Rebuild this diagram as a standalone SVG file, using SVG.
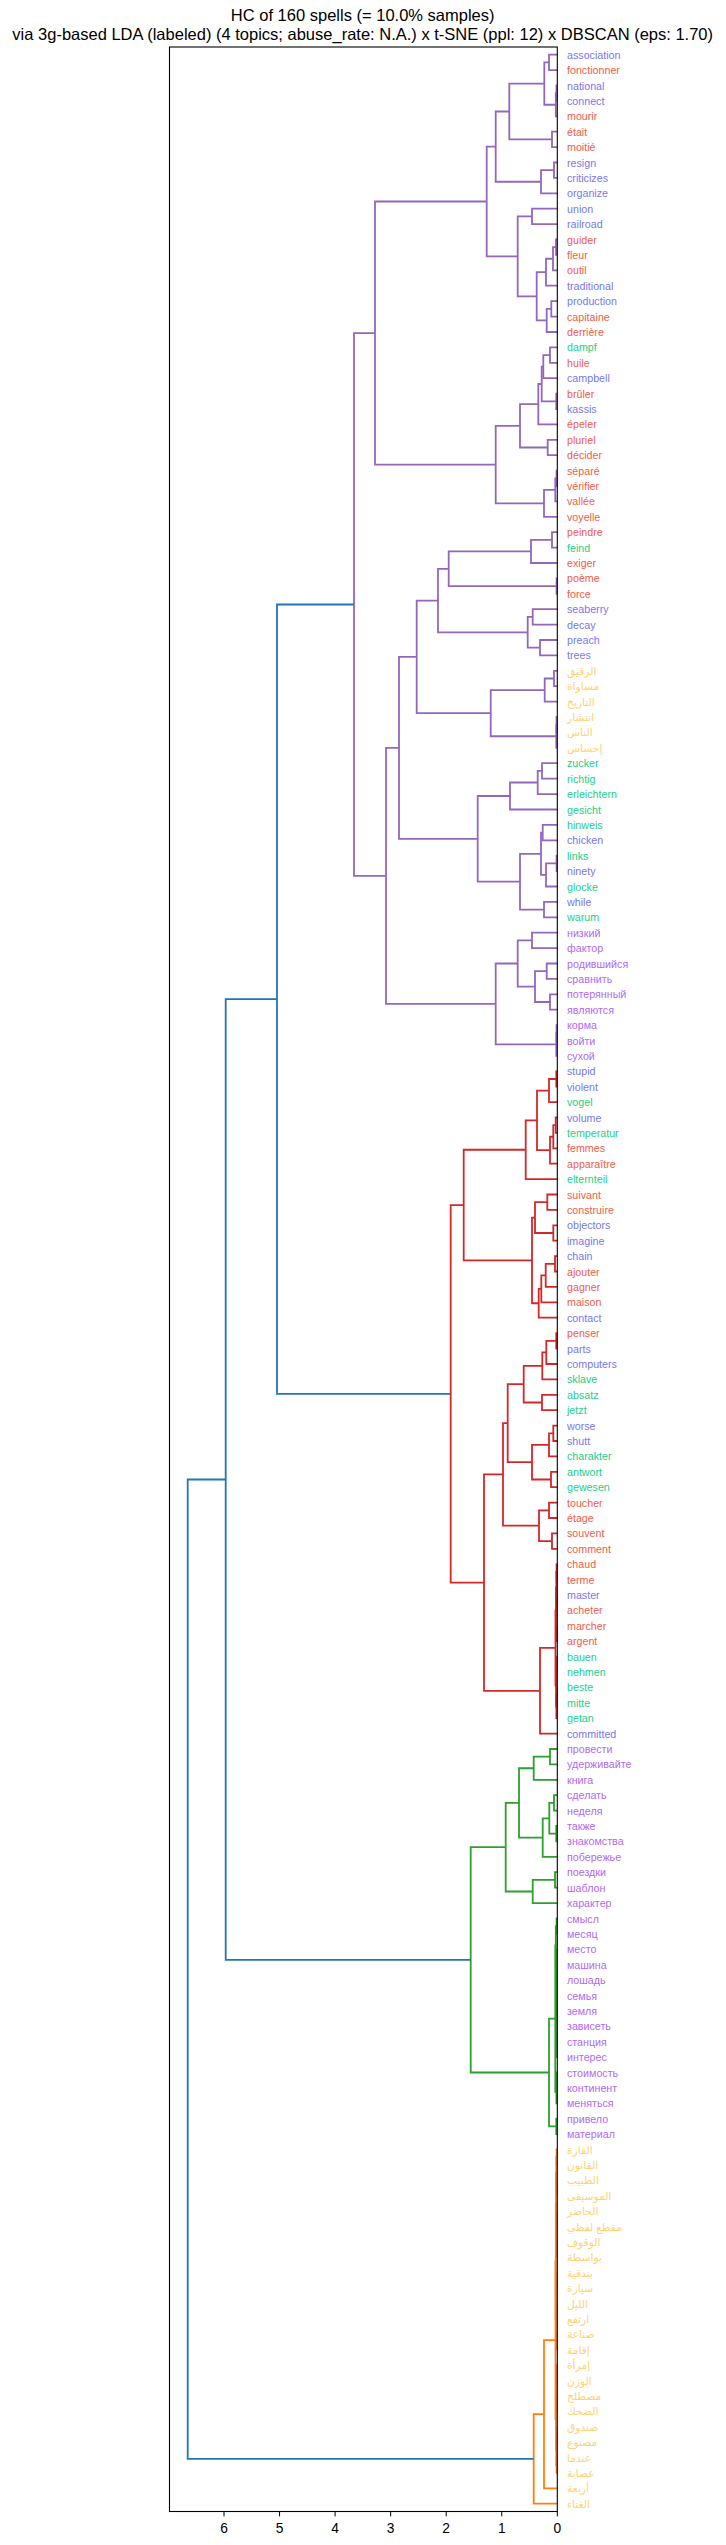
<svg xmlns="http://www.w3.org/2000/svg" width="726" height="2545" viewBox="0 0 726 2545">
<style>
text{font-family:"Liberation Sans","DejaVu Sans",Arial,sans-serif}
.t{font-size:16.5px;fill:#000;text-anchor:middle}
.k{font-size:13.8px;fill:#000;text-anchor:middle}
.lb text{font-size:10.7px}
.en{fill:#7878f0}.fr{fill:#f25c4c}.de{fill:#1ecf8a}.ru{fill:#b06af5}.ar{fill:#ffd274}
#links path{fill:none;stroke-width:1.8;stroke-linejoin:miter;stroke-linecap:butt}
.p{stroke:#9467bd}.r{stroke:#d62728}.g{stroke:#2ca02c}.o{stroke:#ff7f0e}.b{stroke:#1f77b4}
</style>
<rect x="0" y="0" width="726" height="2545" fill="#fff"/>
<g id="title">
<text class="t" x="362.7" y="21">HC of 160 spells (= 10.0% samples)</text>
<text class="t" x="362.7" y="39.5">via 3g-based LDA (labeled) (4 topics; abuse_rate: N.A.) x t-SNE (ppl: 12) x DBSCAN (eps: 1.70)</text>
</g>
<g id="links">
<g class="p">
<path d="M557.3 54.7H549V70.1H557.3"/>
<path d="M557.3 85.5H556.5V100.9H557.3"/>
<path d="M556.5 93.2H555.8V116.3H557.3"/>
<path d="M549 62.4H544.3V104.75H555.8"/>
<path d="M557.3 131.7H552V147.1H557.3"/>
<path d="M544.3 83.6H509.3V139.4H552"/>
<path d="M557.3 162.5H554V177.9H557.3"/>
<path d="M554 170.2H541V193.3H557.3"/>
<path d="M509.3 111.5H495.7V181.75H541"/>
<path d="M557.3 208.7H532V224.1H557.3"/>
<path d="M557.3 239.5H556V254.9H557.3"/>
<path d="M556 247.2H553V270.3H557.3"/>
<path d="M553 258.75H546V285.7H557.3"/>
<path d="M557.3 301.2H551.3V316.6H557.3"/>
<path d="M551.3 308.9H546.7V332H557.3"/>
<path d="M546 272.2H536.7V320.45H546.7"/>
<path d="M532 216.4H517.7V296.3H536.7"/>
<path d="M495.7 146.6H486.7V256.35H517.7"/>
<path d="M557.3 347.4H550V362.8H557.3"/>
<path d="M550 355.1H543.3V378.2H557.3"/>
<path d="M557.3 393.6H556.3V409H557.3"/>
<path d="M543.3 366.65H541.7V401.3H556.3"/>
<path d="M541.7 384H538.3V424.4H557.3"/>
<path d="M557.3 439.8H547.7V455.2H557.3"/>
<path d="M538.3 404.2H520V447.5H547.7"/>
<path d="M557.3 470.6H556.6V486H557.3"/>
<path d="M556.6 478.3H555.3V501.4H557.3"/>
<path d="M555.3 489.85H544V516.8H557.3"/>
<path d="M520 425.85H495.7V503.3H544"/>
<path d="M486.7 201.5H375V464.6H495.7"/>
<path d="M557.3 532.2H552V547.6H557.3"/>
<path d="M552 539.9H531V563H557.3"/>
<path d="M557.3 578.4H556.6V593.8H557.3"/>
<path d="M531 551.45H448.7V586.1H556.6"/>
<path d="M557.3 609.2H532.7V624.6H557.3"/>
<path d="M557.3 640H540V655.4H557.3"/>
<path d="M532.7 616.9H527.7V647.7H540"/>
<path d="M448.7 568.8H438V632.3H527.7"/>
<path d="M557.3 670.8H554V686.2H557.3"/>
<path d="M554 678.5H544.7V701.6H557.3"/>
<path d="M557.3 717H556.6V732.4H557.3"/>
<path d="M556.6 724.7H556.3V747.8H557.3"/>
<path d="M544.7 690.05H490.7V736.25H556.3"/>
<path d="M438 600.55H416.7V713.15H490.7"/>
<path d="M557.3 763.2H542V778.7H557.3"/>
<path d="M542 770.95H537.7V794.1H557.3"/>
<path d="M537.7 782.5H510V809.5H557.3"/>
<path d="M557.3 824.9H542.7V840.3H557.3"/>
<path d="M557.3 855.7H556.6V871.1H557.3"/>
<path d="M556.6 863.4H546V886.5H557.3"/>
<path d="M542.7 832.6H541V874.95H546"/>
<path d="M557.3 901.9H544V917.3H557.3"/>
<path d="M541 853.8H520V909.6H544"/>
<path d="M510 796H477.7V881.7H520"/>
<path d="M416.7 656.85H399V838.85H477.7"/>
<path d="M557.3 932.7H532V948.1H557.3"/>
<path d="M557.3 963.5H546.7V978.9H557.3"/>
<path d="M557.3 994.3H550V1009.7H557.3"/>
<path d="M546.7 971.2H535V1002H550"/>
<path d="M532 940.4H517.7V986.6H535"/>
<path d="M557.3 1025.1H556.6V1040.5H557.3"/>
<path d="M556.6 1032.8H556.3V1055.9H557.3"/>
<path d="M517.7 963.5H495.7V1044.35H556.3"/>
<path d="M399 747.85H386V1003.9H495.7"/>
<path d="M375 333.05H354V875.9H386"/>
</g>
<g class="r">
<path d="M557.3 1071.3H556.3V1086.7H557.3"/>
<path d="M556.3 1079H549V1102.1H557.3"/>
<path d="M557.3 1117.5H555.7V1132.9H557.3"/>
<path d="M555.7 1125.2H553.3V1148.3H557.3"/>
<path d="M553.3 1136.75H550V1163.7H557.3"/>
<path d="M549 1090.55H537V1150.2H550"/>
<path d="M537 1120.4H525.7V1179.1H557.3"/>
<path d="M557.3 1194.5H547.3V1209.9H557.3"/>
<path d="M557.3 1225.3H553.3V1240.7H557.3"/>
<path d="M547.3 1202.2H535V1233H553.3"/>
<path d="M557.3 1256.1H555V1271.5H557.3"/>
<path d="M555 1263.8H545.7V1286.9H557.3"/>
<path d="M545.7 1275.35H541.3V1302.3H557.3"/>
<path d="M541.3 1288.8H538.7V1317.7H557.3"/>
<path d="M535 1217.6H532V1303.25H538.7"/>
<path d="M525.7 1149.75H463.7V1260.4H532"/>
<path d="M557.3 1333.1H556.3V1348.6H557.3"/>
<path d="M556.3 1340.85H546.3V1364H557.3"/>
<path d="M546.3 1352.4H542.3V1379.4H557.3"/>
<path d="M557.3 1394.8H542V1410.2H557.3"/>
<path d="M542.3 1365.9H523.7V1402.5H542"/>
<path d="M557.3 1425.6H553.3V1441H557.3"/>
<path d="M553.3 1433.3H549V1456.4H557.3"/>
<path d="M557.3 1471.8H551V1487.2H557.3"/>
<path d="M549 1444.85H532V1479.5H551"/>
<path d="M523.7 1384.2H507.7V1462.2H532"/>
<path d="M557.3 1502.6H549V1518H557.3"/>
<path d="M557.3 1533.4H552V1548.8H557.3"/>
<path d="M549 1510.3H539V1541.1H552"/>
<path d="M507.7 1423.2H503V1525.7H539"/>
<path d="M557.3 1564.2H556.6V1579.6H557.3"/>
<path d="M557.3 1595H556.6V1610.4H557.3"/>
<path d="M556.6 1571.9H556.3V1602.7H556.6"/>
<path d="M557.3 1625.8H556.6V1641.2H557.3"/>
<path d="M556.3 1587.3H556V1633.5H556.6"/>
<path d="M557.3 1656.6H556.6V1672H557.3"/>
<path d="M557.3 1687.4H556.6V1702.8H557.3"/>
<path d="M556.6 1695.1H556.4V1718.2H557.3"/>
<path d="M556.6 1664.3H556.1V1706.65H556.4"/>
<path d="M556 1610.4H555.5V1685.5H556.1"/>
<path d="M555.5 1647.95H540V1733.6H557.3"/>
<path d="M503 1474.45H484V1690.8H540"/>
<path d="M463.7 1205.1H450.7V1582.6H484"/>
</g>
<g class="g">
<path d="M557.3 1749H550V1764.4H557.3"/>
<path d="M550 1756.7H533.7V1779.8H557.3"/>
<path d="M557.3 1795.2H554V1810.6H557.3"/>
<path d="M557.3 1826H556.3V1841.4H557.3"/>
<path d="M554 1802.9H549.3V1833.7H556.3"/>
<path d="M549.3 1818.3H542.7V1856.8H557.3"/>
<path d="M533.7 1768.25H519V1837.55H542.7"/>
<path d="M557.3 1872.2H555V1887.7H557.3"/>
<path d="M555 1879.95H532.7V1903.1H557.3"/>
<path d="M519 1802.9H505.7V1891.5H532.7"/>
<path d="M557.3 1918.5H556.6V1933.9H557.3"/>
<path d="M557.3 2041.7H556.6V2057.1H557.3"/>
<path d="M557.3 2026.3H556.5V2049.4H556.6"/>
<path d="M557.3 2010.9H556.4V2037.85H556.5"/>
<path d="M557.3 1995.5H556.3V2024.4H556.4"/>
<path d="M557.3 1980.1H556.2V2009.95H556.3"/>
<path d="M557.3 1964.7H556.1V1995H556.2"/>
<path d="M557.3 1949.3H556V1979.85H556.1"/>
<path d="M556.6 1926.2H555.8V1964.6H556"/>
<path d="M557.3 2072.5H556.6V2087.9H557.3"/>
<path d="M556.6 2080.2H556.4V2103.3H557.3"/>
<path d="M555.8 1945.4H555.3V2091.75H556.4"/>
<path d="M557.3 2118.7H556.3V2134.1H557.3"/>
<path d="M555.3 2018.6H549V2126.4H556.3"/>
<path d="M505.7 1847.2H470.7V2072.5H549"/>
</g>
<g class="o">
<path d="M557.3 2149.5H556.6V2164.9H557.3"/>
<path d="M557.3 2180.3H556.6V2195.7H557.3"/>
<path d="M557.3 2211.1H556.6V2226.5H557.3"/>
<path d="M557.3 2241.9H556.6V2257.3H557.3"/>
<path d="M557.3 2272.7H556.6V2288.1H557.3"/>
<path d="M557.3 2303.5H556.6V2318.9H557.3"/>
<path d="M557.3 2334.3H556.6V2349.7H557.3"/>
<path d="M556.6 2157.2H556.3V2188H556.6"/>
<path d="M556.6 2218.8H556.3V2249.6H556.6"/>
<path d="M556.6 2280.4H556.3V2311.2H556.6"/>
<path d="M556.3 2172.6H556V2234.2H556.3"/>
<path d="M556.3 2295.8H556V2342H556.6"/>
<path d="M556 2203.4H555.8V2318.9H556"/>
<path d="M557.3 2365.1H556.6V2380.5H557.3"/>
<path d="M557.3 2395.9H556.6V2411.3H557.3"/>
<path d="M557.3 2426.7H556.6V2442.1H557.3"/>
<path d="M557.3 2457.5H556.6V2472.9H557.3"/>
<path d="M556.6 2372.8H556.3V2403.6H556.6"/>
<path d="M556.6 2434.4H556.3V2465.2H556.6"/>
<path d="M556.3 2388.2H556V2449.8H556.3"/>
<path d="M555.8 2261.15H555.5V2419H556"/>
<path d="M555.5 2340.1H544V2488.3H557.3"/>
<path d="M544 2414.2H533.7V2503.7H557.3"/>
</g>
<g class="b">
<path d="M354 604.5H277V1393.85H450.7"/>
<path d="M277 999.2H225.7V1959.85H470.7"/>
<path d="M225.7 1479.5H187.7V2458.95H533.7"/>
</g>
</g>
<g id="axes" fill="none" stroke="#000">
<rect x="169.5" y="47" width="387.8" height="2464.5" stroke-width="1.1"/>
<path d="M557.3 2511.5V2516.4M501.75 2511.5V2516.4M446.2 2511.5V2516.4M390.65 2511.5V2516.4M335.1 2511.5V2516.4M279.55 2511.5V2516.4M224 2511.5V2516.4" stroke-width="1"/>
</g>
<g id="xticks">
<text class="k" x="557.3" y="2533.3">0</text>
<text class="k" x="501.75" y="2533.3">1</text>
<text class="k" x="446.2" y="2533.3">2</text>
<text class="k" x="390.65" y="2533.3">3</text>
<text class="k" x="335.1" y="2533.3">4</text>
<text class="k" x="279.55" y="2533.3">5</text>
<text class="k" x="224" y="2533.3">6</text>
</g>
<g class="lb">
<g id="leaf-1"><text class="en" x="567" y="58.7">association</text></g>
<g id="leaf-2"><text class="fr" x="567" y="74.1">fonctionner</text></g>
<g id="leaf-3"><text class="en" x="567" y="89.5">national</text></g>
<g id="leaf-4"><text class="en" x="567" y="104.9">connect</text></g>
<g id="leaf-5"><text class="fr" x="567" y="120.3">mourir</text></g>
<g id="leaf-6"><text class="fr" x="567" y="135.7">était</text></g>
<g id="leaf-7"><text class="fr" x="567" y="151.1">moitié</text></g>
<g id="leaf-8"><text class="en" x="567" y="166.5">resign</text></g>
<g id="leaf-9"><text class="en" x="567" y="181.9">criticizes</text></g>
<g id="leaf-10"><text class="en" x="567" y="197.3">organize</text></g>
<g id="leaf-11"><text class="en" x="567" y="212.7">union</text></g>
<g id="leaf-12"><text class="en" x="567" y="228.1">railroad</text></g>
<g id="leaf-13"><text class="fr" x="567" y="243.5">guider</text></g>
<g id="leaf-14"><text class="fr" x="567" y="258.9">fleur</text></g>
<g id="leaf-15"><text class="fr" x="567" y="274.3">outil</text></g>
<g id="leaf-16"><text class="en" x="567" y="289.7">traditional</text></g>
<g id="leaf-17"><text class="en" x="567" y="305.2">production</text></g>
<g id="leaf-18"><text class="fr" x="567" y="320.6">capitaine</text></g>
<g id="leaf-19"><text class="fr" x="567" y="336">derrière</text></g>
<g id="leaf-20"><text class="de" x="567" y="351.4">dampf</text></g>
<g id="leaf-21"><text class="fr" x="567" y="366.8">huile</text></g>
<g id="leaf-22"><text class="en" x="567" y="382.2">campbell</text></g>
<g id="leaf-23"><text class="fr" x="567" y="397.6">brûler</text></g>
<g id="leaf-24"><text class="en" x="567" y="413">kassis</text></g>
<g id="leaf-25"><text class="fr" x="567" y="428.4">épeler</text></g>
<g id="leaf-26"><text class="fr" x="567" y="443.8">pluriel</text></g>
<g id="leaf-27"><text class="fr" x="567" y="459.2">décider</text></g>
<g id="leaf-28"><text class="fr" x="567" y="474.6">séparé</text></g>
<g id="leaf-29"><text class="fr" x="567" y="490">vérifier</text></g>
<g id="leaf-30"><text class="fr" x="567" y="505.4">vallée</text></g>
<g id="leaf-31"><text class="fr" x="567" y="520.8">voyelle</text></g>
<g id="leaf-32"><text class="fr" x="567" y="536.2">peindre</text></g>
<g id="leaf-33"><text class="de" x="567" y="551.6">feind</text></g>
<g id="leaf-34"><text class="fr" x="567" y="567">exiger</text></g>
<g id="leaf-35"><text class="fr" x="567" y="582.4">poème</text></g>
<g id="leaf-36"><text class="fr" x="567" y="597.8">force</text></g>
<g id="leaf-37"><text class="en" x="567" y="613.2">seaberry</text></g>
<g id="leaf-38"><text class="en" x="567" y="628.6">decay</text></g>
<g id="leaf-39"><text class="en" x="567" y="644">preach</text></g>
<g id="leaf-40"><text class="en" x="567" y="659.4">trees</text></g>
<g id="leaf-41"><text class="ar" x="567" y="674.8">الرقيق</text></g>
<g id="leaf-42"><text class="ar" x="567" y="690.2">مساواة</text></g>
<g id="leaf-43"><text class="ar" x="567" y="705.6">التاريخ</text></g>
<g id="leaf-44"><text class="ar" x="567" y="721">انتشار</text></g>
<g id="leaf-45"><text class="ar" x="567" y="736.4">الناس</text></g>
<g id="leaf-46"><text class="ar" x="567" y="751.8">إحساس</text></g>
<g id="leaf-47"><text class="de" x="567" y="767.2">zucker</text></g>
<g id="leaf-48"><text class="de" x="567" y="782.7">richtig</text></g>
<g id="leaf-49"><text class="de" x="567" y="798.1">erleichtern</text></g>
<g id="leaf-50"><text class="de" x="567" y="813.5">gesicht</text></g>
<g id="leaf-51"><text class="de" x="567" y="828.9">hinweis</text></g>
<g id="leaf-52"><text class="en" x="567" y="844.3">chicken</text></g>
<g id="leaf-53"><text class="de" x="567" y="859.7">links</text></g>
<g id="leaf-54"><text class="en" x="567" y="875.1">ninety</text></g>
<g id="leaf-55"><text class="de" x="567" y="890.5">glocke</text></g>
<g id="leaf-56"><text class="en" x="567" y="905.9">while</text></g>
<g id="leaf-57"><text class="de" x="567" y="921.3">warum</text></g>
<g id="leaf-58"><text class="ru" x="567" y="936.7">низкий</text></g>
<g id="leaf-59"><text class="ru" x="567" y="952.1">фактор</text></g>
<g id="leaf-60"><text class="ru" x="567" y="967.5">родившийся</text></g>
<g id="leaf-61"><text class="ru" x="567" y="982.9">сравнить</text></g>
<g id="leaf-62"><text class="ru" x="567" y="998.3">потерянный</text></g>
<g id="leaf-63"><text class="ru" x="567" y="1013.7">являются</text></g>
<g id="leaf-64"><text class="ru" x="567" y="1029.1">корма</text></g>
<g id="leaf-65"><text class="ru" x="567" y="1044.5">войти</text></g>
<g id="leaf-66"><text class="ru" x="567" y="1059.9">сухой</text></g>
<g id="leaf-67"><text class="en" x="567" y="1075.3">stupid</text></g>
<g id="leaf-68"><text class="en" x="567" y="1090.7">violent</text></g>
<g id="leaf-69"><text class="de" x="567" y="1106.1">vogel</text></g>
<g id="leaf-70"><text class="en" x="567" y="1121.5">volume</text></g>
<g id="leaf-71"><text class="de" x="567" y="1136.9">temperatur</text></g>
<g id="leaf-72"><text class="fr" x="567" y="1152.3">femmes</text></g>
<g id="leaf-73"><text class="fr" x="567" y="1167.7">apparaître</text></g>
<g id="leaf-74"><text class="de" x="567" y="1183.1">elternteil</text></g>
<g id="leaf-75"><text class="fr" x="567" y="1198.5">suivant</text></g>
<g id="leaf-76"><text class="fr" x="567" y="1213.9">construire</text></g>
<g id="leaf-77"><text class="en" x="567" y="1229.3">objectors</text></g>
<g id="leaf-78"><text class="en" x="567" y="1244.7">imagine</text></g>
<g id="leaf-79"><text class="en" x="567" y="1260.1">chain</text></g>
<g id="leaf-80"><text class="fr" x="567" y="1275.5">ajouter</text></g>
<g id="leaf-81"><text class="fr" x="567" y="1290.9">gagner</text></g>
<g id="leaf-82"><text class="fr" x="567" y="1306.3">maison</text></g>
<g id="leaf-83"><text class="en" x="567" y="1321.7">contact</text></g>
<g id="leaf-84"><text class="fr" x="567" y="1337.1">penser</text></g>
<g id="leaf-85"><text class="en" x="567" y="1352.6">parts</text></g>
<g id="leaf-86"><text class="en" x="567" y="1368">computers</text></g>
<g id="leaf-87"><text class="de" x="567" y="1383.4">sklave</text></g>
<g id="leaf-88"><text class="de" x="567" y="1398.8">absatz</text></g>
<g id="leaf-89"><text class="de" x="567" y="1414.2">jetzt</text></g>
<g id="leaf-90"><text class="en" x="567" y="1429.6">worse</text></g>
<g id="leaf-91"><text class="en" x="567" y="1445">shutt</text></g>
<g id="leaf-92"><text class="de" x="567" y="1460.4">charakter</text></g>
<g id="leaf-93"><text class="de" x="567" y="1475.8">antwort</text></g>
<g id="leaf-94"><text class="de" x="567" y="1491.2">gewesen</text></g>
<g id="leaf-95"><text class="fr" x="567" y="1506.6">toucher</text></g>
<g id="leaf-96"><text class="fr" x="567" y="1522">étage</text></g>
<g id="leaf-97"><text class="fr" x="567" y="1537.4">souvent</text></g>
<g id="leaf-98"><text class="fr" x="567" y="1552.8">comment</text></g>
<g id="leaf-99"><text class="fr" x="567" y="1568.2">chaud</text></g>
<g id="leaf-100"><text class="fr" x="567" y="1583.6">terme</text></g>
<g id="leaf-101"><text class="en" x="567" y="1599">master</text></g>
<g id="leaf-102"><text class="fr" x="567" y="1614.4">acheter</text></g>
<g id="leaf-103"><text class="fr" x="567" y="1629.8">marcher</text></g>
<g id="leaf-104"><text class="fr" x="567" y="1645.2">argent</text></g>
<g id="leaf-105"><text class="de" x="567" y="1660.6">bauen</text></g>
<g id="leaf-106"><text class="de" x="567" y="1676">nehmen</text></g>
<g id="leaf-107"><text class="de" x="567" y="1691.4">beste</text></g>
<g id="leaf-108"><text class="de" x="567" y="1706.8">mitte</text></g>
<g id="leaf-109"><text class="de" x="567" y="1722.2">getan</text></g>
<g id="leaf-110"><text class="en" x="567" y="1737.6">committed</text></g>
<g id="leaf-111"><text class="ru" x="567" y="1753">провести</text></g>
<g id="leaf-112"><text class="ru" x="567" y="1768.4">удерживайте</text></g>
<g id="leaf-113"><text class="ru" x="567" y="1783.8">книга</text></g>
<g id="leaf-114"><text class="ru" x="567" y="1799.2">сделать</text></g>
<g id="leaf-115"><text class="ru" x="567" y="1814.6">неделя</text></g>
<g id="leaf-116"><text class="ru" x="567" y="1830">также</text></g>
<g id="leaf-117"><text class="ru" x="567" y="1845.4">знакомства</text></g>
<g id="leaf-118"><text class="ru" x="567" y="1860.8">побережье</text></g>
<g id="leaf-119"><text class="ru" x="567" y="1876.2">поездки</text></g>
<g id="leaf-120"><text class="ru" x="567" y="1891.7">шаблон</text></g>
<g id="leaf-121"><text class="ru" x="567" y="1907.1">характер</text></g>
<g id="leaf-122"><text class="ru" x="567" y="1922.5">смысл</text></g>
<g id="leaf-123"><text class="ru" x="567" y="1937.9">месяц</text></g>
<g id="leaf-124"><text class="ru" x="567" y="1953.3">место</text></g>
<g id="leaf-125"><text class="ru" x="567" y="1968.7">машина</text></g>
<g id="leaf-126"><text class="ru" x="567" y="1984.1">лошадь</text></g>
<g id="leaf-127"><text class="ru" x="567" y="1999.5">семья</text></g>
<g id="leaf-128"><text class="ru" x="567" y="2014.9">земля</text></g>
<g id="leaf-129"><text class="ru" x="567" y="2030.3">зависеть</text></g>
<g id="leaf-130"><text class="ru" x="567" y="2045.7">станция</text></g>
<g id="leaf-131"><text class="ru" x="567" y="2061.1">интерес</text></g>
<g id="leaf-132"><text class="ru" x="567" y="2076.5">стоимость</text></g>
<g id="leaf-133"><text class="ru" x="567" y="2091.9">континент</text></g>
<g id="leaf-134"><text class="ru" x="567" y="2107.3">меняться</text></g>
<g id="leaf-135"><text class="ru" x="567" y="2122.7">привело</text></g>
<g id="leaf-136"><text class="ru" x="567" y="2138.1">материал</text></g>
<g id="leaf-137"><text class="ar" x="567" y="2153.5">القارة</text></g>
<g id="leaf-138"><text class="ar" x="567" y="2168.9">القانون</text></g>
<g id="leaf-139"><text class="ar" x="567" y="2184.3">الطبيب</text></g>
<g id="leaf-140"><text class="ar" x="567" y="2199.7">الموسيقى</text></g>
<g id="leaf-141"><text class="ar" x="567" y="2215.1">الحاضر</text></g>
<g id="leaf-142"><text class="ar" x="567" y="2230.5">مقطع لفظي</text></g>
<g id="leaf-143"><text class="ar" x="567" y="2245.9">الوقوف</text></g>
<g id="leaf-144"><text class="ar" x="567" y="2261.3">بواسطة</text></g>
<g id="leaf-145"><text class="ar" x="567" y="2276.7">بندقية</text></g>
<g id="leaf-146"><text class="ar" x="567" y="2292.1">سيارة</text></g>
<g id="leaf-147"><text class="ar" x="567" y="2307.5">الليل</text></g>
<g id="leaf-148"><text class="ar" x="567" y="2322.9">ارتفع</text></g>
<g id="leaf-149"><text class="ar" x="567" y="2338.3">صناعة</text></g>
<g id="leaf-150"><text class="ar" x="567" y="2353.7">إقامة</text></g>
<g id="leaf-151"><text class="ar" x="567" y="2369.1">إمرأة</text></g>
<g id="leaf-152"><text class="ar" x="567" y="2384.5">الوزن</text></g>
<g id="leaf-153"><text class="ar" x="567" y="2399.9">مصطلح</text></g>
<g id="leaf-154"><text class="ar" x="567" y="2415.3">الضحك</text></g>
<g id="leaf-155"><text class="ar" x="567" y="2430.7">صندوق</text></g>
<g id="leaf-156"><text class="ar" x="567" y="2446.1">مصنوع</text></g>
<g id="leaf-157"><text class="ar" x="567" y="2461.5">عندما</text></g>
<g id="leaf-158"><text class="ar" x="567" y="2476.9">عصابة</text></g>
<g id="leaf-159"><text class="ar" x="567" y="2492.3">أربعة</text></g>
<g id="leaf-160"><text class="ar" x="567" y="2507.7">الغناء</text></g>
</g>
</svg>
